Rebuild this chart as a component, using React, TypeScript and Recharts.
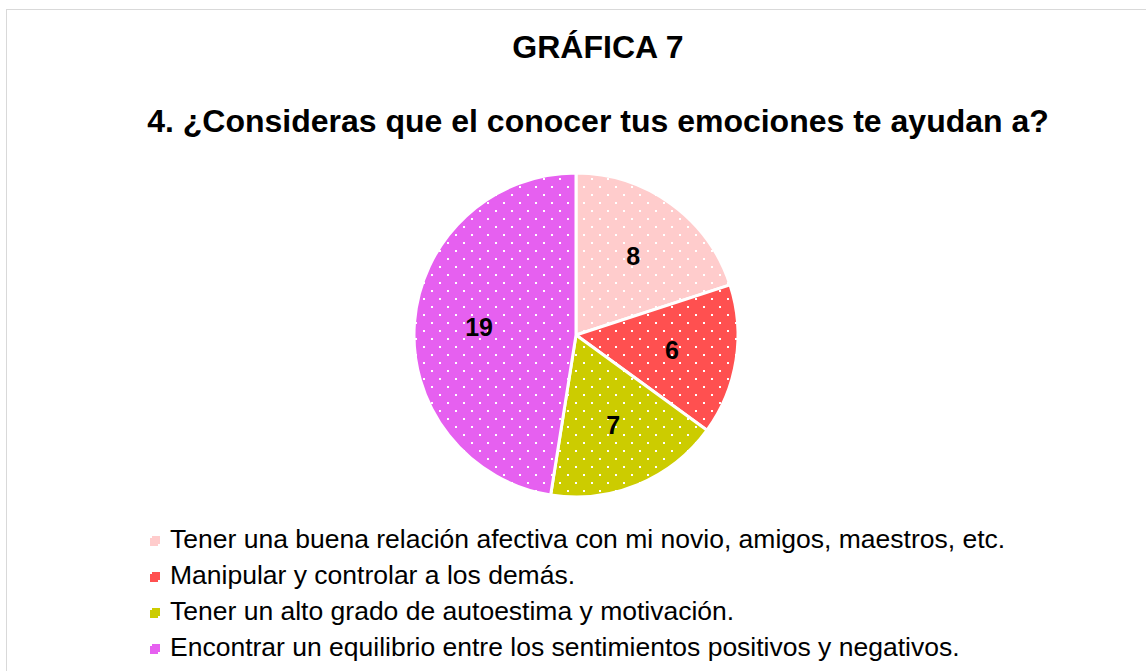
import { PieChart, Pie, Cell, Legend } from "recharts";

const categories = [
  "Tener una buena relación afectiva con mi novio, amigos, maestros, etc.",
  "Manipular y controlar a los demás.",
  "Tener un alto grado de autoestima y motivación.",
  "Encontrar un equilibrio entre los sentimientos positivos y negativos.",
];
const values = [8, 6, 7, 19];
const COLORS = ["#FFCCCC", "#FF5050", "#CCCC00", "#E660F0"];

const data = categories.map((name, i) => ({ name, value: values[i] }));

const FONT = '"Liberation Sans", Arial, sans-serif';
const RAD = Math.PI / 180;

// white dotted fill like the original office chart
function Patterns() {
  return (
    <svg width={0} height={0} style={{ position: "absolute" }}>
      <defs>
        {COLORS.map((c, i) => (
          <pattern
            key={i}
            id={`dots-${i}`}
            patternUnits="userSpaceOnUse"
            width={16}
            height={16}
          >
            <rect width={16} height={16} fill={c} />
            <rect x={0} y={0} width={2} height={2} fill="#fff" />
            <rect x={8} y={8} width={2} height={2} fill="#fff" />
          </pattern>
        ))}
      </defs>
    </svg>
  );
}

const renderLabel = (props: any) => {
  const { cx, cy, midAngle, outerRadius, value } = props;
  const r = outerRadius * 0.6;
  const x = cx + r * Math.cos(-midAngle * RAD);
  const y = cy + r * Math.sin(-midAngle * RAD);
  return (
    <text
      x={x}
      y={y}
      textAnchor="middle"
      dominantBaseline="central"
      fontFamily={FONT}
      fontWeight="bold"
      fontSize={25}
      fill="#000"
    >
      {value}
    </text>
  );
};

const renderLegend = () => (
  <div style={{ fontFamily: FONT, fontSize: 26.5, color: "#000" }}>
    {categories.map((name, i) => (
      <div
        key={name}
        style={{ display: "flex", alignItems: "center", height: 36, lineHeight: "36px", whiteSpace: "nowrap" }}
      >
        <svg width={10} height={10} style={{ marginTop: 4, marginRight: 10 }}>
          <rect width={10} height={10} fill={`url(#dots-${i})`} />
        </svg>
        <span>{name}</span>
      </div>
    ))}
  </div>
);

export default function App() {
  return (
    <div
      style={{
        position: "absolute",
        left: 6,
        top: 9,
        width: 1142,
        height: 670,
        border: "1px solid #D9D9D9",
        boxSizing: "border-box",
        background: "#fff",
        fontFamily: FONT,
      }}
    >
      <Patterns />
      <div
        style={{
          position: "absolute",
          left: 591,
          top: 21,
          transform: "translateX(-50%)",
          fontSize: 32,
          lineHeight: "32px",
          fontWeight: "bold",
          whiteSpace: "nowrap",
        }}
      >
        GRÁFICA 7
      </div>
      <div
        style={{
          position: "absolute",
          left: 591,
          top: 95,
          transform: "translateX(-50%)",
          fontSize: 32,
          lineHeight: "32px",
          fontWeight: "bold",
          whiteSpace: "nowrap",
        }}
      >
        4. ¿Consideras que el conocer tus emociones te ayudan a?
      </div>
      <PieChart width={1140} height={668} margin={{ top: 0, right: 0, bottom: 0, left: 0 }}>
        <Pie
          data={data}
          dataKey="value"
          nameKey="name"
          cx={569}
          cy={325}
          outerRadius={162}
          startAngle={90}
          endAngle={-270}
          stroke="#fff"
          strokeWidth={3}
          label={renderLabel}
          labelLine={false}
          isAnimationActive={false}
        >
          {data.map((entry, i) => (
            <Cell key={`cell-${i}`} fill={`url(#dots-${i})`} />
          ))}
        </Pie>
        <Legend
          layout="horizontal"
          verticalAlign="bottom"
          align="left"
          content={renderLegend}
          wrapperStyle={{ top: 511, left: 143, bottom: "auto", width: 1000 }}
        />
      </PieChart>
    </div>
  );
}
